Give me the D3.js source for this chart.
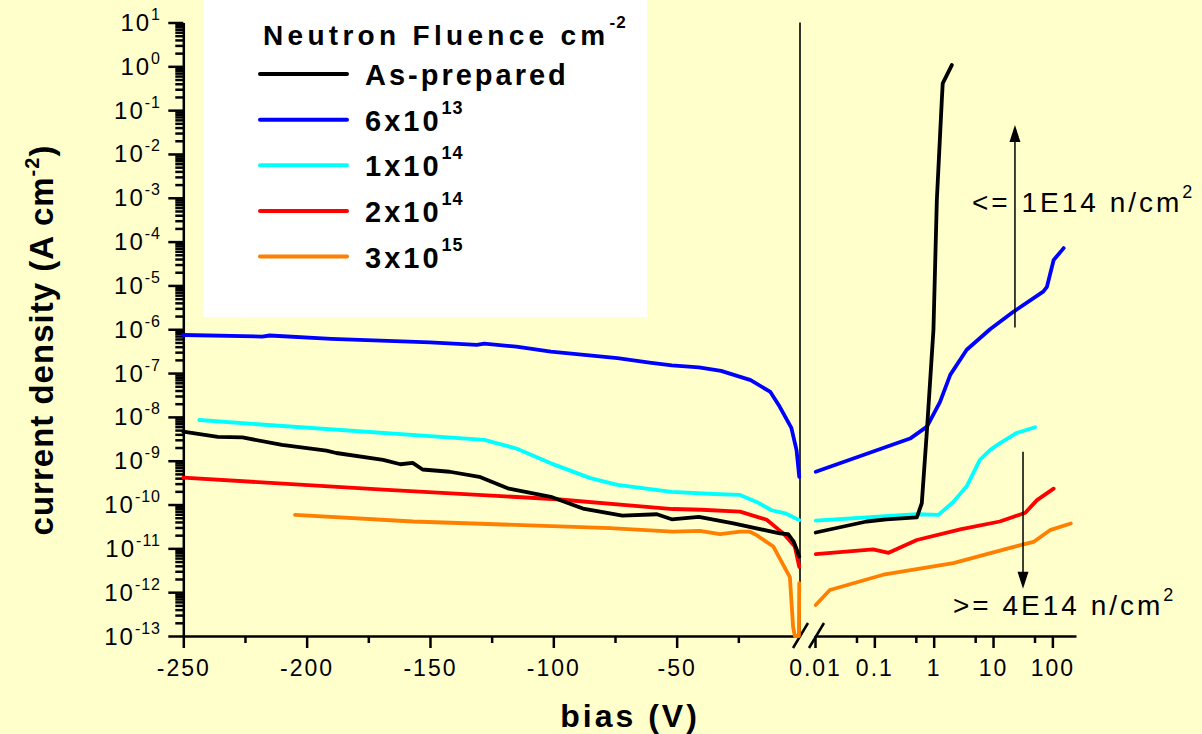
<!DOCTYPE html>
<html>
<head>
<meta charset="utf-8">
<script src="https://cdn.jsdelivr.net/npm/d3@7"></script>
<style>
  body { margin: 0; background: #ffffcc; }
  svg { display: block; font-family: 'Liberation Sans', Arial, sans-serif; }
</style>
</head>
<body>
<div id="chart"></div>
<script>
// J-V curves, [bias V, current density A/cm2]
// reverse bias (left panel, linear V) and forward bias (right panel, log V)
const asPreparedRev = [[-250, 4.6e-9], [-236, 3.5e-9], [-226, 3.4e-9], [-210, 2.3e-9], [-192, 1.7e-9],
  [-188, 1.5e-9], [-169, 1.05e-9], [-162, 8.3e-10], [-157, 8.9e-10], [-153, 6.3e-10], [-142, 5.6e-10],
  [-130, 4.3e-10], [-118, 2.3e-10], [-101, 1.5e-10], [-88, 8.1e-11], [-72, 5.6e-11], [-58, 6.0e-11],
  [-52, 4.6e-11], [-41, 5.2e-11], [-27, 3.7e-11], [-8.2, 2.2e-11], [-4.8, 2.1e-11], [-2.5, 1.4e-11],
  [-0.8, 7.9e-12], [-0.3, 6.5e-12]];
const asPreparedFwd = [[0.0103, 2.3e-11], [0.074, 4.1e-11], [0.16, 4.6e-11], [0.52, 5.1e-11], [0.63, 1.07e-10],
  [0.77, 5.0e-9], [0.99, 9.5e-7], [1.13, 8.9e-4], [1.37, 0.17], [1.42, 0.41], [2.02, 1.07]];

const fluence6e13Rev = [[-250, 7.4e-7], [-218, 6.8e-7], [-215, 7.2e-7], [-190, 6.0e-7], [-150, 5.0e-7],
  [-131, 4.4e-7], [-128, 4.7e-7], [-115, 4.0e-7], [-101, 3.1e-7], [-74, 2.2e-7], [-61, 1.74e-7],
  [-52, 1.5e-7], [-41, 1.35e-7], [-32, 1.12e-7], [-20, 6.9e-8], [-12, 3.7e-8], [-8.2, 1.7e-8],
  [-3.5, 5.6e-9], [-1.4, 1.74e-9], [-0.3, 4.3e-10]];
const fluence6e13Fwd = [[0.0103, 5.6e-10], [0.4, 3.2e-9], [0.77, 6.0e-9], [1.28, 2.2e-8], [1.9, 9.1e-8],
  [3.6, 3.4e-7], [8.9, 1.0e-6], [22, 2.5e-6], [70, 7.2e-6], [81, 9.3e-6], [105, 3.8e-5], [155, 7.1e-5]];

const fluence1e14Rev = [[-243.5, 8.5e-9], [-220, 6.8e-9], [-128, 3.0e-9], [-115, 1.9e-9], [-101, 8.7e-10],
  [-85, 4.0e-10], [-74, 2.8e-10], [-52, 1.95e-10], [-35, 1.74e-10], [-24.3, 1.66e-10], [-17.6, 1.15e-10],
  [-11.5, 7.4e-11], [-6, 6.3e-11], [-0.3, 4.4e-11]];
const fluence1e14Fwd = [[0.0103, 4.3e-11], [0.52, 6.0e-11], [1.2, 5.8e-11], [2.14, 1.15e-10], [3.6, 2.6e-10],
  [6.0, 1.05e-9], [8.9, 1.74e-9], [13, 2.5e-9], [25, 4.3e-9], [51, 5.8e-9]];

const fluence2e14Rev = [[-250, 4.1e-10], [-169, 2.2e-10], [-98.6, 1.32e-10], [-51.6, 7.9e-11], [-40, 7.6e-11],
  [-24.3, 6.9e-11], [-13.5, 4.5e-11], [-6.8, 2.2e-11], [-2.1, 1.1e-11], [-0.3, 3.8e-12]];
const fluence2e14Fwd = [[0.0103, 7.4e-12], [0.095, 9.5e-12], [0.174, 7.9e-12], [0.52, 1.55e-11], [2.8, 2.7e-11],
  [13, 4.1e-11], [35, 6.5e-11], [55, 1.26e-10], [105, 2.3e-10]];

const fluence3e15Rev = [[-204.7, 5.8e-11], [-156.8, 4.1e-11], [-77, 2.9e-11], [-51.6, 2.4e-11], [-40.6, 2.5e-11],
  [-32.4, 2.1e-11], [-24.3, 2.4e-11], [-20.3, 2.4e-11], [-17.6, 2.0e-11], [-10.8, 1.1e-11], [-4.1, 2.2e-12],
  [-2.8, 1.6e-13], [-2.1, 1e-13], [-0.45, 1e-13], [-0.3, 1.6e-12]];
const fluence3e15Fwd = [[0.0103, 5.1e-13], [0.0178, 1.12e-12], [0.141, 2.5e-12], [2.14, 4.6e-12], [25, 1.12e-11],
  [48, 1.4e-11], [91, 2.6e-11], [204, 3.7e-11]];

const seriesNames = ['As-prepared', '6x10', '1x10', '2x10', '3x10'];
const seriesExps = ['', '13', '14', '14', '15'];
const seriesColors = ['#000000', '#0000ff', '#00ffff', '#ff0000', '#ff8000'];

const leftTicks = [-250, -200, -150, -100, -50];
const leftMinorTicks = [-225, -175, -125, -75, -25];
const rightTicks = [0.01, 0.1, 1, 10, 100];
const rightMinorTicks = [0.05, 0.5, 5, 50];
const yExponents = d3.range(-13, 2);

const series = [
  { rev: asPreparedRev, fwd: asPreparedFwd },
  { rev: fluence6e13Rev, fwd: fluence6e13Fwd },
  { rev: fluence1e14Rev, fwd: fluence1e14Fwd },
  { rev: fluence2e14Rev, fwd: fluence2e14Fwd },
  { rev: fluence3e15Rev, fwd: fluence3e15Fwd }
];

const width = 1202, height = 734;
const font = "'Liberation Sans', Arial, sans-serif";

const svg = d3.select('#chart').append('svg')
  .attr('width', width)
  .attr('height', height);

svg.append('rect')
  .attr('width', width)
  .attr('height', height)
  .attr('fill', '#ffffcc');

// scales
const y = d3.scaleLog().domain([1e-13, 10]).range([636, 22.5]);
const xL = d3.scaleLinear().domain([-250, 0]).range([183.3, 800]);
const xR = d3.scaleLog().domain([0.01, 250]).range([815, 1076]);

// legend box
svg.append('rect')
  .attr('x', 203)
  .attr('y', 0)
  .attr('width', 444)
  .attr('height', 317)
  .attr('fill', '#ffffff');

// y axis
const yMinor = [];
yExponents.slice(0, -1).forEach(e => {
  d3.range(2, 10).forEach(k => yMinor.push(k * Math.pow(10, e)));
});

const yAxisG = svg.append('g')
  .attr('transform', 'translate(183.3,0)');
yAxisG.call(d3.axisLeft(y).tickValues(yExponents.map(e => Math.pow(10, e)))
  .tickSize(15).tickSizeOuter(0).tickFormat(''));
yAxisG.append('g')
  .call(d3.axisLeft(y).tickValues(yMinor).tickSize(8).tickSizeOuter(0).tickFormat(''))
  .select('.domain').remove();
yAxisG.selectAll('path, line').attr('stroke', '#000').attr('stroke-width', 2.5);

const yLabels = svg.append('g')
  .selectAll('text')
  .data(yExponents)
  .join('text')
  .attr('x', 161)
  .attr('y', e => y(Math.pow(10, e)) + 8.5)
  .attr('text-anchor', 'end')
  .attr('font-size', 24)
  .attr('letter-spacing', 2);
yLabels.append('tspan').text('10');
yLabels.append('tspan')
  .attr('dy', -11)
  .attr('font-size', 16)
  .attr('letter-spacing', 1)
  .text(e => String(e));

// x axes
function styleAxis(g) {
  g.selectAll('path, line').attr('stroke', '#000').attr('stroke-width', 2.5);
  g.selectAll('text')
    .attr('fill', '#000')
    .attr('font-size', 23)
    .attr('letter-spacing', 2)
    .attr('font-family', font);
}

const xLeftG = svg.append('g')
  .attr('transform', 'translate(0,636)');
xLeftG.call(d3.axisBottom(xL).tickValues(leftTicks).tickSize(12).tickSizeOuter(0)
  .tickPadding(12).tickFormat(d => String(d)));
xLeftG.append('g')
  .call(d3.axisBottom(xL).tickValues(leftMinorTicks).tickSize(7).tickFormat(''))
  .select('.domain').remove();
styleAxis(xLeftG);

const xRightG = svg.append('g')
  .attr('transform', 'translate(0,636)');
xRightG.call(d3.axisBottom(xR).tickValues(rightTicks).tickSize(12).tickSizeOuter(0)
  .tickPadding(12).tickFormat(d => String(d)));
xRightG.append('g')
  .call(d3.axisBottom(xR).tickValues(rightMinorTicks).tickSize(7).tickFormat(''))
  .select('.domain').remove();
styleAxis(xRightG);

// axis break marks
[0, 16].forEach(dx => {
  svg.append('line')
    .attr('x1', 793 + dx).attr('y1', 648)
    .attr('x2', 808 + dx).attr('y2', 623)
    .attr('stroke', '#000')
    .attr('stroke-width', 2.5);
});

// divider at V = 0
svg.append('line')
  .attr('x1', xL(0)).attr('x2', xL(0))
  .attr('y1', y(10)).attr('y2', y(1e-13))
  .attr('stroke', '#000')
  .attr('stroke-width', 1.6);

// curves
const lineL = d3.line().x(d => xL(d[0])).y(d => y(d[1]));
const lineR = d3.line().x(d => xR(d[0])).y(d => y(d[1]));

const curves = svg.append('g')
  .attr('fill', 'none')
  .attr('stroke-width', 3.8)
  .attr('stroke-linejoin', 'round')
  .attr('stroke-linecap', 'round');

// draw back to front so black/blue sit on top like the original
series.slice().reverse().forEach((s, i) => {
  const color = seriesColors[series.length - 1 - i];
  curves.append('path').attr('d', lineL(s.rev)).attr('stroke', color);
  curves.append('path').attr('d', lineR(s.fwd)).attr('stroke', color);
});

// legend
const legend = svg.append('g');
const title = legend.append('text')
  .attr('x', 263)
  .attr('y', 45)
  .attr('font-size', 28)
  .attr('font-weight', 'bold')
  .attr('letter-spacing', 4.3);
title.append('tspan').text('Neutron Fluence cm');
title.append('tspan')
  .attr('dy', -17)
  .attr('font-size', 17)
  .attr('letter-spacing', 1)
  .text('-2');

const items = legend.selectAll('g.item')
  .data(seriesNames)
  .join('g')
  .attr('class', 'item')
  .attr('transform', (d, i) => `translate(0,${74 + i * 45.65})`);

items.append('line')
  .attr('x1', 260)
  .attr('x2', 347)
  .attr('stroke', (d, i) => seriesColors[i])
  .attr('stroke-width', 4)
  .attr('stroke-linecap', 'round');

const itemText = items.append('text')
  .attr('x', 365)
  .attr('y', 11)
  .attr('font-size', 29)
  .attr('font-weight', 'bold')
  .attr('letter-spacing', 3);
itemText.append('tspan').text(d => d);
itemText.append('tspan')
  .attr('dy', -17)
  .attr('font-size', 18)
  .attr('letter-spacing', 1)
  .text((d, i) => seriesExps[i]);

// axis titles
const yTitle = svg.append('text')
  .attr('transform', 'translate(53,340) rotate(-90)')
  .attr('text-anchor', 'middle')
  .attr('font-size', 33)
  .attr('font-weight', 'bold')
  .attr('letter-spacing', 1);
yTitle.append('tspan').text('current density  (A cm');
yTitle.append('tspan').attr('dy', -14).attr('font-size', 20).text('-2');
yTitle.append('tspan').attr('dy', 14).text(')');

svg.append('text')
  .attr('x', 630)
  .attr('y', 727)
  .attr('text-anchor', 'middle')
  .attr('font-size', 32)
  .attr('font-weight', 'bold')
  .attr('letter-spacing', 3)
  .text('bias (V)');

// fluence trend arrows
const arrows = [
  { v: 23.4, from: 1.1e-6, to: 4.6e-2 },
  { v: 32, from: 1.6e-9, to: 1.2e-12 }
];
arrows.forEach(a => {
  const x = xR(a.v), y0 = y(a.from), y1 = y(a.to);
  const dir = y1 < y0 ? 1 : -1;
  svg.append('line')
    .attr('x1', x).attr('x2', x)
    .attr('y1', y0).attr('y2', y1 + dir * 10)
    .attr('stroke', '#000')
    .attr('stroke-width', 1.5);
  svg.append('path')
    .attr('d', `M${x},${y1} L${x - 5.5},${y1 + dir * 17} L${x + 5.5},${y1 + dir * 17} Z`)
    .attr('fill', '#000');
});

const notes = [
  { x: 972, y: 212, text: '<= 1E14 n/cm' },
  { x: 953, y: 615, text: '>= 4E14 n/cm' }
];
notes.forEach(n => {
  const t = svg.append('text')
    .attr('x', n.x)
    .attr('y', n.y)
    .attr('font-size', 28)
    .attr('letter-spacing', 3);
  t.append('tspan').text(n.text);
  t.append('tspan').attr('dy', -14).attr('font-size', 18).text('2');
});
</script>
</body>
</html>
